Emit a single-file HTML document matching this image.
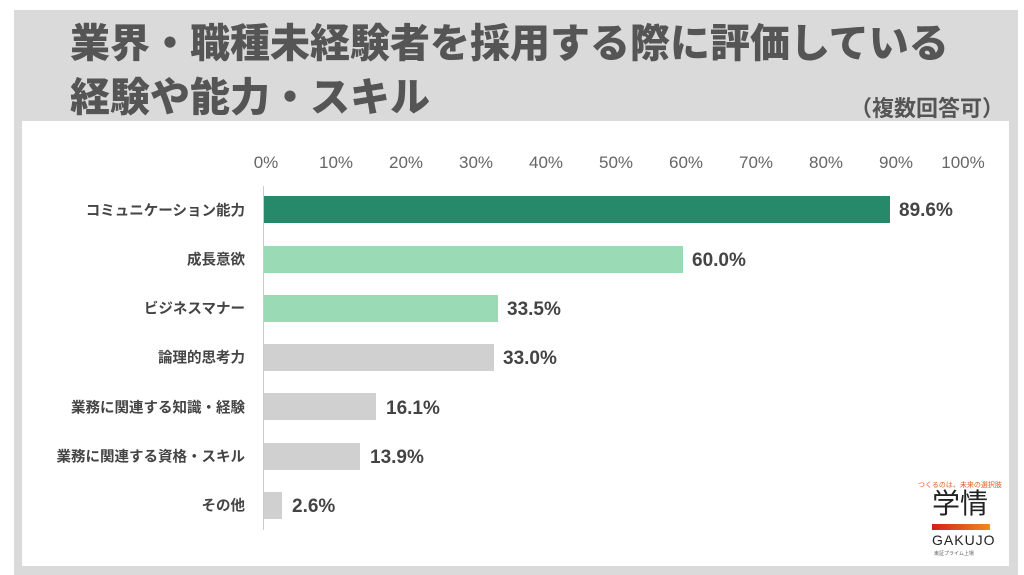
<!DOCTYPE html>
<html><head><meta charset="utf-8"><style>
body{margin:0;width:1024px;height:575px;background:#fff;position:relative;overflow:hidden;font-family:"Liberation Sans","Noto Sans CJK JP",sans-serif}
.frame{position:absolute;left:14px;top:10px;width:1004px;height:565px;background:#dadada}
.inner{position:absolute;left:22px;top:121px;width:987px;height:445px;background:#fff}
.t{position:absolute;left:70px;font-weight:900;font-size:40px;color:#555;white-space:nowrap;line-height:1}
.tick{position:absolute;top:153px;font-size:17px;color:#666;transform:translateX(-50%)}
.lab{position:absolute;right:779px;font-size:14.5px;font-weight:bold;color:#444;white-space:nowrap;transform:translateY(-50%)}
.bar{position:absolute;left:264px;height:27px}
.val{position:absolute;font-size:19px;font-weight:bold;color:#444;transform:translateY(-50%)}
</style></head><body>
<div class="frame"></div>
<div class="t" style="top:24px">業界・職種未経験者を採用する際に評価している</div>
<div class="t" style="top:78px">経験や能力・スキル</div>
<div style="position:absolute;right:20px;top:91px;font-size:22px;font-weight:bold;color:#555">（複数回答可）</div>
<div class="inner"></div>
<div class="tick" style="left:266px">0%</div><div class="tick" style="left:336px">10%</div><div class="tick" style="left:406px">20%</div><div class="tick" style="left:476px">30%</div><div class="tick" style="left:546px">40%</div><div class="tick" style="left:616px">50%</div><div class="tick" style="left:686px">60%</div><div class="tick" style="left:756px">70%</div><div class="tick" style="left:826px">80%</div><div class="tick" style="left:896px">90%</div><div class="tick" style="left:963px">100%</div>
<div style="position:absolute;left:263px;top:186px;width:1px;height:344px;background:#ccc"></div>
<div class="lab" style="top:210px">コミュニケーション能力</div><div class="bar" style="top:196px;width:626px;background:#268a6a"></div><div class="val" style="left:899px;top:211px">89.6%</div>
<div class="lab" style="top:259px">成長意欲</div><div class="bar" style="top:246px;width:419px;background:#9adbb5"></div><div class="val" style="left:692px;top:261px">60.0%</div>
<div class="lab" style="top:308px">ビジネスマナー</div><div class="bar" style="top:295px;width:234px;background:#9adbb5"></div><div class="val" style="left:507px;top:310px">33.5%</div>
<div class="lab" style="top:357px">論理的思考力</div><div class="bar" style="top:344px;width:230px;background:#d0d0d0"></div><div class="val" style="left:503px;top:359px">33.0%</div>
<div class="lab" style="top:407px">業務に関連する知識・経験</div><div class="bar" style="top:393px;width:112px;background:#d0d0d0"></div><div class="val" style="left:386px;top:409px">16.1%</div>
<div class="lab" style="top:456px">業務に関連する資格・スキル</div><div class="bar" style="top:443px;width:96px;background:#d0d0d0"></div><div class="val" style="left:370px;top:458px">13.9%</div>
<div class="lab" style="top:505px">その他</div><div class="bar" style="top:492px;width:18px;background:#d0d0d0"></div><div class="val" style="left:292px;top:507px">2.6%</div>
<div style="position:absolute;left:918px;top:480px;font-size:7px;color:#e05a20;white-space:nowrap">つくるのは、未来の選択肢</div>
<div style="position:absolute;left:932px;top:490px;font-size:28px;color:#222;line-height:1">学情</div>
<div style="position:absolute;left:932px;top:524px;width:58px;height:6px;background:linear-gradient(90deg,#d2201a,#f08a20)"></div>
<div style="position:absolute;left:932px;top:532px;font-size:14px;color:#222;letter-spacing:1px">GAKUJO</div>
<div style="position:absolute;left:934px;top:550px;font-size:5px;color:#666">東証プライム上場</div>
</body></html>
